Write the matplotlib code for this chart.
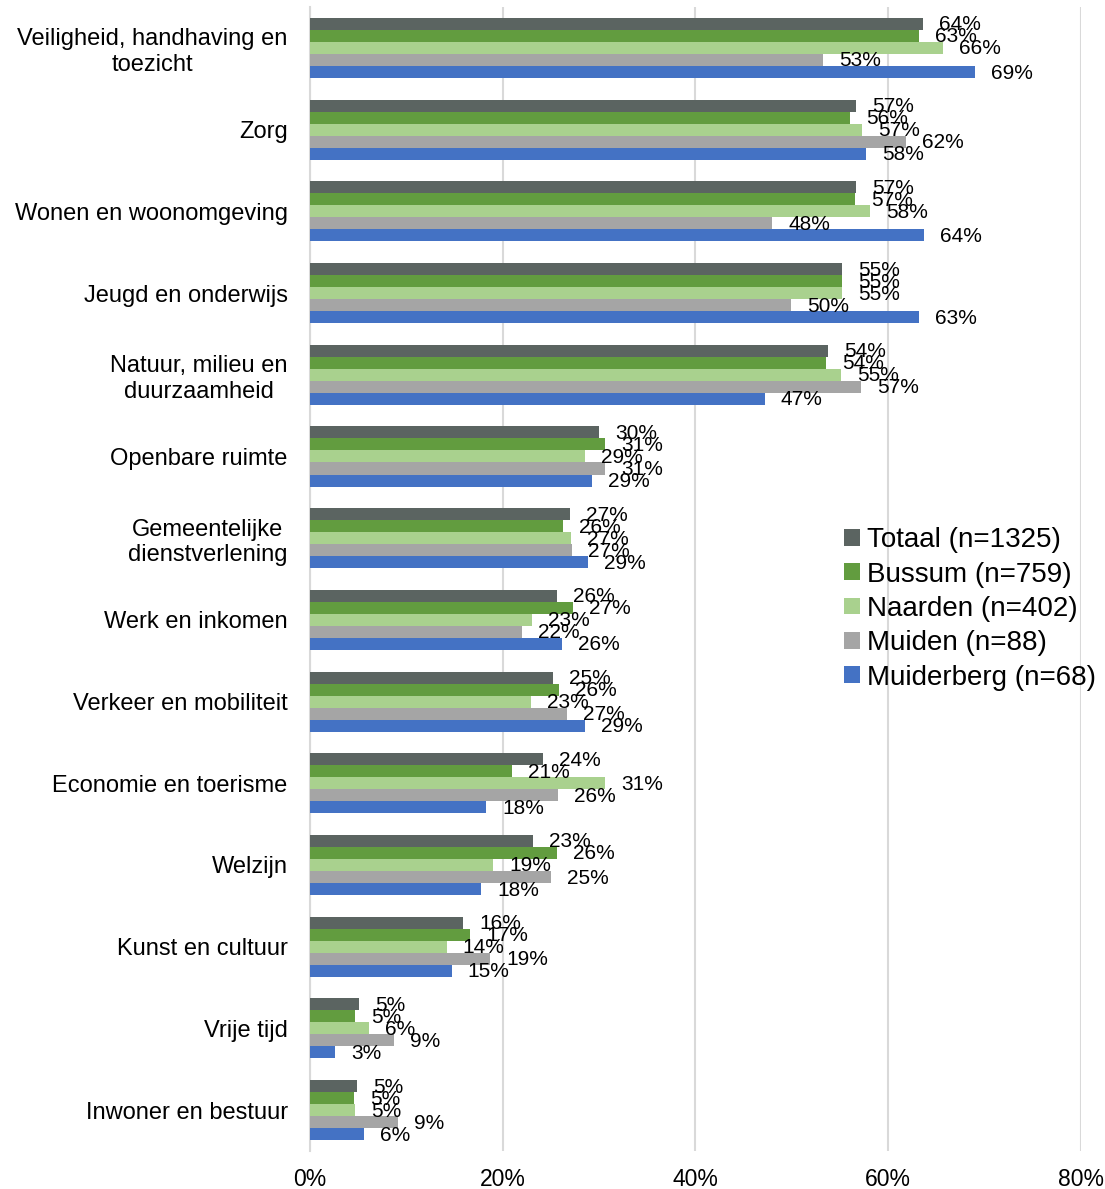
import matplotlib.pyplot as plt
import numpy as np

plt.rcParams['font.family'] = ['Liberation Sans', 'DejaVu Sans']

categories = [
    "Veiligheid, handhaving en\ntoezicht",
    "Zorg",
    "Wonen en woonomgeving",
    "Jeugd en onderwijs",
    "Natuur, milieu en\nduurzaamheid",
    "Openbare ruimte",
    "Gemeentelijke\ndienstverlening",
    "Werk en inkomen",
    "Verkeer en mobiliteit",
    "Economie en toerisme",
    "Welzijn",
    "Kunst en cultuur",
    "Vrije tijd",
    "Inwoner en bestuur",
]

series_names = ["Totaal (n=1325)", "Bussum (n=759)", "Naarden (n=402)",
                "Muiden (n=88)", "Muiderberg (n=68)"]
colors = ["#5b6461", "#629c3f", "#a9d18e", "#a5a5a5", "#4472c4"]

# percentages per series, same order as categories
totaal = [63.6, 56.7, 56.7, 55.2, 53.8, 30.0, 27.0, 25.6, 25.2, 24.2, 23.1, 15.9, 5.1, 4.9]
bussum = [63.2, 56.1, 56.6, 55.2, 53.6, 30.6, 26.3, 27.3, 25.9, 21.0, 25.6, 16.6, 4.7, 4.6]
naarden = [65.7, 57.3, 58.1, 55.2, 55.1, 28.6, 27.1, 23.0, 22.9, 30.6, 19.0, 14.2, 6.1, 4.7]
muiden = [53.3, 61.9, 48.0, 49.9, 57.2, 30.6, 27.2, 22.0, 26.7, 25.7, 25.0, 18.7, 8.7, 9.1]
muiderberg = [69.0, 57.7, 63.7, 63.2, 47.2, 29.3, 28.9, 26.2, 28.6, 18.3, 17.8, 14.7, 2.6, 5.6]

xticks = [0, 20, 40, 60, 80]

data = [totaal, bussum, naarden, muiden, muiderberg]

fig = plt.figure(figsize=(11.05, 11.89), dpi=100)
ax = fig.add_axes([0.2805, 0.032, 0.6975, 0.962])

n = len(categories)
y = np.arange(n)
h = 0.147
for i, (vals, name, c) in enumerate(zip(data, series_names, colors)):
    pos = y + (i - 2) * h
    ax.barh(pos, vals, height=h, color=c, label=name, zorder=3)
    for p, v in zip(pos, vals):
        ax.annotate(f"{round(v):d}%", (v, p), xytext=(16, -1),
                    textcoords='offset pixels', va='center', ha='left',
                    fontsize=15, color='#000000', zorder=4)

ax.set_ylim(n - 0.5, -0.5)
ax.set_xlim(0, 80)
ax.set_xticks(xticks)
ax.set_xticklabels([f"{t}%" for t in xticks], fontsize=16.5)
ax.set_yticks(y)
ax.set_yticklabels(categories, fontsize=17)
for lbl in ax.get_yticklabels():
    lbl.set_multialignment('center')
ax.tick_params(axis='both', length=0)
ax.tick_params(axis='y', pad=16)
ax.tick_params(axis='x', pad=12)

ax.grid(axis='x', color='#d9d9d9', linewidth=1.5, zorder=0)
for s in ['top', 'right', 'bottom']:
    ax.spines[s].set_visible(False)
ax.spines['left'].set_color('#d9d9d9')
ax.spines['left'].set_linewidth(1.5)

ax.legend(loc='upper left', bbox_to_anchor=(0.679, 0.555), frameon=False,
          fontsize=20, handlelength=0.55, handleheight=0.55,
          handletextpad=0.25, labelspacing=0.3, borderaxespad=0)

fig.savefig("out.png", dpi=100)
